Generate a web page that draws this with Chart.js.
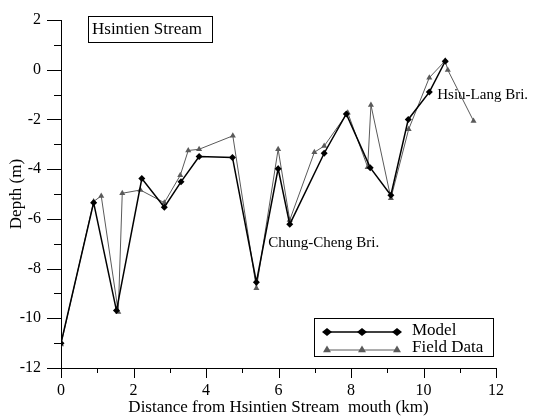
<!DOCTYPE html>
<html>
<head>
<meta charset="utf-8">
<script src="https://cdn.jsdelivr.net/npm/chart.js@4/dist/chart.umd.min.js"></script>
<style>
  body { margin: 0; background: #fff; }
  #wrap { width: 533px; height: 419px; }
</style>
</head>
<body>
<div id="wrap"><canvas id="depthChart" width="533" height="419"></canvas></div>
<script>
// Hsintien Stream bed depth: model vs field survey
const modelKm    = [0, 0.90, 1.53, 2.23, 2.85, 3.31, 3.81, 4.73, 5.39, 5.99, 6.31, 7.26, 7.87, 8.53, 9.10, 9.58, 10.16, 10.60];
const modelDepth = [-11.0, -5.35, -9.69, -4.38, -5.53, -4.51, -3.49, -3.53, -8.55, -3.98, -6.22, -3.36, -1.78, -3.94, -5.05, -2.0, -0.9, 0.34];

const fieldKm    = [0, 0.90, 1.11, 1.58, 1.69, 2.19, 2.85, 3.29, 3.51, 3.81, 4.74, 5.39, 5.99, 6.31, 6.99, 7.26, 7.91, 8.46, 8.55, 9.10, 9.59, 10.16, 10.60, 10.67, 11.38];
const fieldDepth = [-11.05, -5.3, -5.08, -9.75, -4.97, -4.84, -5.35, -4.25, -3.25, -3.2, -2.66, -8.79, -3.2, -6.05, -3.32, -3.07, -1.73, -3.92, -1.42, -5.17, -2.4, -0.32, 0.36, -0.01, -2.06];

const xTicks = [0, 2, 4, 6, 8, 10, 12];
const yTicks = [-12, -10, -8, -6, -4, -2, 0, 2];

const serif = '"Liberation Serif", "Times New Roman", serif';
const fieldGray = '#5a5a5a';

const toPoints = (xs, ys) => xs.map((v, i) => ({ x: v, y: ys[i] }));

function marker(ctx, style, cx, cy, r) {
  ctx.beginPath();
  if (style === 'diamond') {
    ctx.moveTo(cx, cy - r * 0.8); ctx.lineTo(cx + r, cy); ctx.lineTo(cx, cy + r * 0.8); ctx.lineTo(cx - r, cy);
  } else {
    const h = r * 0.866;
    ctx.moveTo(cx, cy - r); ctx.lineTo(cx + h, cy + r / 2); ctx.lineTo(cx - h, cy + r / 2);
  }
  ctx.closePath();
  ctx.fill();
}

// minor/major ticks, title box, notes and legend
const decor = {
  id: 'decor',
  afterDraw(chart) {
    const { ctx, chartArea: a, scales: { x, y } } = chart;
    ctx.save();
    ctx.strokeStyle = '#000';
    ctx.lineWidth = 1;
    for (let v = xTicks[0]; v <= xTicks[xTicks.length - 1]; v++) {
      const px = Math.round(x.getPixelForValue(v)) + 0.5;
      ctx.beginPath();
      ctx.moveTo(px, a.bottom);
      ctx.lineTo(px, a.bottom + (v % 2 === 0 ? 10 : 5));
      ctx.stroke();
    }
    for (let v = yTicks[0]; v <= yTicks[yTicks.length - 1]; v++) {
      const py = Math.round(y.getPixelForValue(v)) + 0.5;
      ctx.beginPath();
      ctx.moveTo(a.left, py);
      ctx.lineTo(a.left - (v % 2 === 0 ? 14 : 7), py);
      ctx.stroke();
    }

    // title box
    ctx.font = '17px ' + serif;
    ctx.fillStyle = '#000';
    ctx.textBaseline = 'middle';
    ctx.textAlign = 'left';
    ctx.strokeRect(a.left + 27.5, a.top - 3.5, 124, 26);
    ctx.fillText('Hsintien Stream', a.left + 31, a.top + 10);

    // bridge notes
    ctx.font = '15px ' + serif;
    ctx.fillText('Chung-Cheng Bri.', x.getPixelForValue(5.72), y.getPixelForValue(-6.97));
    ctx.fillText('Hsiu-Lang Bri.', x.getPixelForValue(10.38), y.getPixelForValue(-1.01));

    // legend
    const lx = a.right - 182, ly = a.bottom - 50;
    ctx.strokeRect(lx + 0.5, ly + 0.5, 179, 38);
    const rows = [
      { label: 'Model', color: '#000', style: 'diamond', r: 5, w: 1.5, dy: 14 },
      { label: 'Field Data', color: fieldGray, style: 'triangle', r: 4.6, w: 1, dy: 32 }
    ];
    rows.forEach(row => {
      const cy = ly + row.dy;
      ctx.strokeStyle = row.color;
      ctx.fillStyle = row.color;
      ctx.lineWidth = row.w;
      ctx.beginPath();
      ctx.moveTo(lx + 13, cy);
      ctx.lineTo(lx + 83, cy);
      ctx.stroke();
      [lx + 13, lx + 48, lx + 83].forEach(mx => marker(ctx, row.style, mx, cy, row.r));
      ctx.fillStyle = '#000';
      ctx.font = '17px ' + serif;
      ctx.fillText(row.label, lx + 98, ly + (row.dy === 14 ? 13 : 30));
    });
    ctx.restore();
  }
};

const ctx = document.getElementById('depthChart').getContext('2d');
const depthChart = new Chart(ctx, {
  type: 'line',
  data: {
    datasets: [
      {
        label: 'Model',
        data: toPoints(modelKm, modelDepth),
        borderColor: '#000',
        backgroundColor: '#000',
        borderWidth: 1.5,
        pointStyle: 'rectRot',
        pointRadius: 3.5,
        pointBorderWidth: 0,
        tension: 0,
        order: 1
      },
      {
        label: 'Field Data',
        data: toPoints(fieldKm, fieldDepth),
        borderColor: fieldGray,
        backgroundColor: fieldGray,
        borderWidth: 1,
        pointStyle: 'triangle',
        pointRadius: 3.5,
        pointBorderWidth: 0,
        tension: 0,
        order: 2
      }
    ]
  },
  options: {
    responsive: false,
    animation: false,
    devicePixelRatio: 1,
    layout: { padding: { top: 20, right: 37, bottom: 0, left: 0 } },
    plugins: { legend: { display: false }, tooltip: { enabled: false } },
    scales: {
      x: {
        type: 'linear',
        min: 0, max: 12,
        afterFit: s => { s.height = 51; s.paddingLeft = 0; s.paddingRight = 0; },
        afterBuildTicks: s => { s.ticks = xTicks.map(v => ({ value: v })); },
        grid: { display: false, drawTicks: false },
        border: { display: true, color: '#000', width: 1 },
        ticks: { color: '#000', padding: 13, font: { family: serif, size: 16 } },
        title: {
          display: true,
          text: 'Distance from Hsintien Stream  mouth (km)',
          color: '#000',
          font: { family: serif, size: 17 },
          padding: { top: 0, bottom: 1 }
        }
      },
      y: {
        type: 'linear',
        min: -12, max: 2,
        afterFit: s => { s.width = 61; s.paddingTop = 0; s.paddingBottom = 0; },
        afterBuildTicks: s => { s.ticks = yTicks.map(v => ({ value: v })); },
        grid: { display: false, drawTicks: false },
        border: { display: true, color: '#000', width: 1 },
        ticks: { color: '#000', padding: 20, font: { family: serif, size: 16 } },
        title: {
          display: true,
          text: 'Depth (m)',
          color: '#000',
          font: { family: serif, size: 17 },
          padding: { top: 6, bottom: 0 }
        }
      }
    }
  },
  plugins: [decor]
});
</script>
</body>
</html>
